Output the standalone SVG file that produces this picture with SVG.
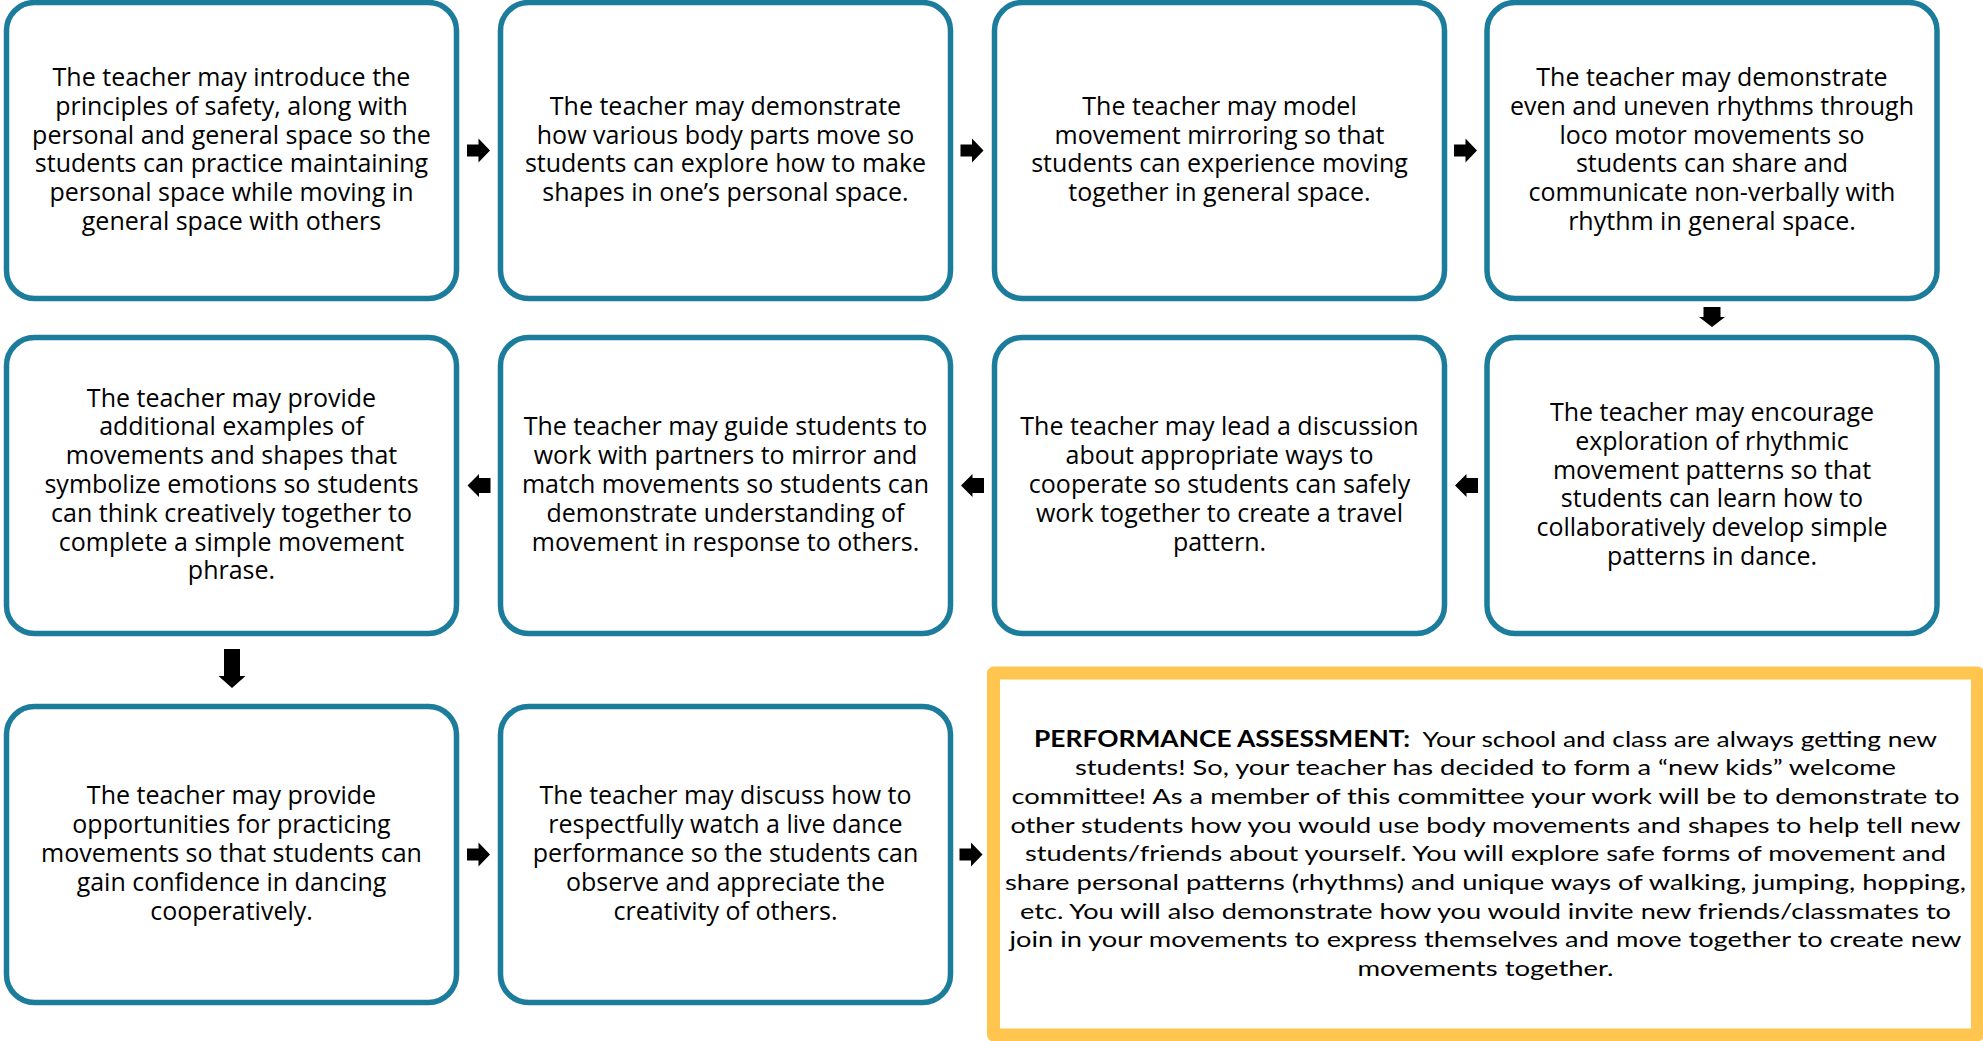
<svg xmlns="http://www.w3.org/2000/svg" width="1983" height="1041" viewBox="0 0 1983 1041">
<style>
.box{fill:#fff;stroke:#1b7c9c;stroke-width:5.5}
.pa{fill:#fff;stroke:#ffc54e;stroke-width:13;stroke-linejoin:round}
.t{font-family:"Open Sans","Noto Sans",sans-serif;font-size:25px;fill:#000;text-anchor:middle}
.p{font-family:Lato,"Liberation Sans",sans-serif;font-size:22px;fill:#000;text-anchor:middle}
.b{font-weight:bold}
.ar{fill:#000}
</style>
<defs>
<path id="ra" d="M-11.5,-6H0V-12L11.5,0L0,12V6H-11.5Z"/>
<path id="la" d="M11.5,-7.5H0V-11.5L-11.5,0L0,11.5V7.5H11.5Z"/>
</defs>
<rect width="1983" height="1041" fill="#fff"/>

<g id="n1">
<rect class="box" x="6.5" y="2.5" width="450" height="296" rx="28"/>
<text class="t"><tspan x="231.5" y="86">The teacher may introduce the</tspan><tspan x="231.5" y="114.8">principles of safety, along with</tspan><tspan x="231.5" y="143.6">personal and general space so the</tspan><tspan x="231.5" y="172.4">students can practice maintaining</tspan><tspan x="231.5" y="201.2">personal space while moving in</tspan><tspan x="231.5" y="230">general space with others</tspan></text>
</g>
<g id="n2">
<rect class="box" x="500.5" y="2.5" width="450" height="296" rx="28"/>
<text class="t"><tspan x="725.5" y="114.8">The teacher may demonstrate</tspan><tspan x="725.5" y="143.6">how various body parts move so</tspan><tspan x="725.5" y="172.4">students can explore how to make</tspan><tspan x="725.5" y="201.2">shapes in one’s personal space.</tspan></text>
</g>
<g id="n3">
<rect class="box" x="994.5" y="2.5" width="450" height="296" rx="28"/>
<text class="t"><tspan x="1219.5" y="114.8">The teacher may model</tspan><tspan x="1219.5" y="143.6">movement mirroring so that</tspan><tspan x="1219.5" y="172.4">students can experience moving</tspan><tspan x="1219.5" y="201.2">together in general space.</tspan></text>
</g>
<g id="n4">
<rect class="box" x="1487" y="2.5" width="450" height="296" rx="28"/>
<text class="t"><tspan x="1712" y="86">The teacher may demonstrate</tspan><tspan x="1712" y="114.8">even and uneven rhythms through</tspan><tspan x="1712" y="143.6">loco motor movements so</tspan><tspan x="1712" y="172.4">students can share and</tspan><tspan x="1712" y="201.2">communicate non-verbally with</tspan><tspan x="1712" y="230">rhythm in general space.</tspan></text>
</g>
<g id="n5">
<rect class="box" x="1487" y="337.5" width="450" height="296" rx="28"/>
<text class="t"><tspan x="1712" y="421">The teacher may encourage</tspan><tspan x="1712" y="449.8">exploration of rhythmic</tspan><tspan x="1712" y="478.6">movement patterns so that</tspan><tspan x="1712" y="507.4">students can learn how to</tspan><tspan x="1712" y="536.2">collaboratively develop simple</tspan><tspan x="1712" y="565">patterns in dance.</tspan></text>
</g>
<g id="n6">
<rect class="box" x="994.5" y="337.5" width="450" height="296" rx="28"/>
<text class="t"><tspan x="1219.5" y="435.4">The teacher may lead a discussion</tspan><tspan x="1219.5" y="464.2">about appropriate ways to</tspan><tspan x="1219.5" y="493">cooperate so students can safely</tspan><tspan x="1219.5" y="521.8">work together to create a travel</tspan><tspan x="1219.5" y="550.6">pattern.</tspan></text>
</g>
<g id="n7">
<rect class="box" x="500.5" y="337.5" width="450" height="296" rx="28"/>
<text class="t"><tspan x="725.5" y="435.4">The teacher may guide students to</tspan><tspan x="725.5" y="464.2">work with partners to mirror and</tspan><tspan x="725.5" y="493">match movements so students can</tspan><tspan x="725.5" y="521.8">demonstrate understanding of</tspan><tspan x="725.5" y="550.6">movement in response to others.</tspan></text>
</g>
<g id="n8">
<rect class="box" x="6.5" y="337.5" width="450" height="296" rx="28"/>
<text class="t"><tspan x="231.5" y="406.6">The teacher may provide</tspan><tspan x="231.5" y="435.4">additional examples of</tspan><tspan x="231.5" y="464.2">movements and shapes that</tspan><tspan x="231.5" y="493">symbolize emotions so students</tspan><tspan x="231.5" y="521.8">can think creatively together to</tspan><tspan x="231.5" y="550.6">complete a simple movement</tspan><tspan x="231.5" y="579.4">phrase.</tspan></text>
</g>
<g id="n9">
<rect class="box" x="6.5" y="706.5" width="450" height="296" rx="28"/>
<text class="t"><tspan x="231.5" y="804.4">The teacher may provide</tspan><tspan x="231.5" y="833.2">opportunities for practicing</tspan><tspan x="231.5" y="862">movements so that students can</tspan><tspan x="231.5" y="890.8">gain confidence in dancing</tspan><tspan x="231.5" y="919.6">cooperatively.</tspan></text>
</g>
<g id="n10">
<rect class="box" x="500.5" y="706.5" width="450" height="296" rx="28"/>
<text class="t"><tspan x="725.5" y="804.4">The teacher may discuss how to</tspan><tspan x="725.5" y="833.2">respectfully watch a live dance</tspan><tspan x="725.5" y="862">performance so the students can</tspan><tspan x="725.5" y="890.8">observe and appreciate the</tspan><tspan x="725.5" y="919.6">creativity of others.</tspan></text>
</g>
<g id="n11">
<rect class="pa" x="993.5" y="673" width="984" height="362"/>
<text class="p" x="1485.5" y="746.7" textLength="903" lengthAdjust="spacingAndGlyphs" xml:space="preserve"><tspan class="b">PERFORMANCE ASSESSMENT:</tspan>  Your school and class are always getting new</text>
<text class="p" x="1485.5" y="775.4" textLength="821" lengthAdjust="spacingAndGlyphs">students! So, your teacher has decided to form a “new kids” welcome</text>
<text class="p" x="1485.5" y="804" textLength="948" lengthAdjust="spacingAndGlyphs">committee! As a member of this committee your work will be to demonstrate to</text>
<text class="p" x="1485.5" y="832.7" textLength="950" lengthAdjust="spacingAndGlyphs">other students how you would use body movements and shapes to help tell new</text>
<text class="p" x="1485.5" y="861.3" textLength="921" lengthAdjust="spacingAndGlyphs">students/friends about yourself. You will explore safe forms of movement and</text>
<text class="p" x="1485.5" y="890" textLength="961" lengthAdjust="spacingAndGlyphs">share personal patterns (rhythms) and unique ways of walking, jumping, hopping,</text>
<text class="p" x="1485.5" y="918.7" textLength="931" lengthAdjust="spacingAndGlyphs">etc. You will also demonstrate how you would invite new friends/classmates to</text>
<text class="p" x="1485.5" y="947.3" textLength="952" lengthAdjust="spacingAndGlyphs">join in your movements to express themselves and move together to create new</text>
<text class="p" x="1485.5" y="976" textLength="256" lengthAdjust="spacingAndGlyphs">movements together.</text>
</g>

<g id="connectors" class="ar">
<use href="#ra" transform="translate(478.5,150.5)"/>
<use href="#ra" transform="translate(972,150.5)"/>
<use href="#ra" transform="translate(1465.5,150.5)"/>
<path d="M1703.5,307H1720.5V317H1725L1712,327L1699,317H1703.5Z"/>
<use href="#la" transform="translate(1466.5,485.5)"/>
<use href="#la" transform="translate(972.5,485.5)"/>
<use href="#la" transform="translate(479,485.5)"/>
<path d="M224,649H240V676H245.5L232,688L218.5,676H224Z"/>
<use href="#ra" transform="translate(478.5,854.5)"/>
<use href="#ra" transform="translate(971,854.5)"/>
</g>
</svg>
